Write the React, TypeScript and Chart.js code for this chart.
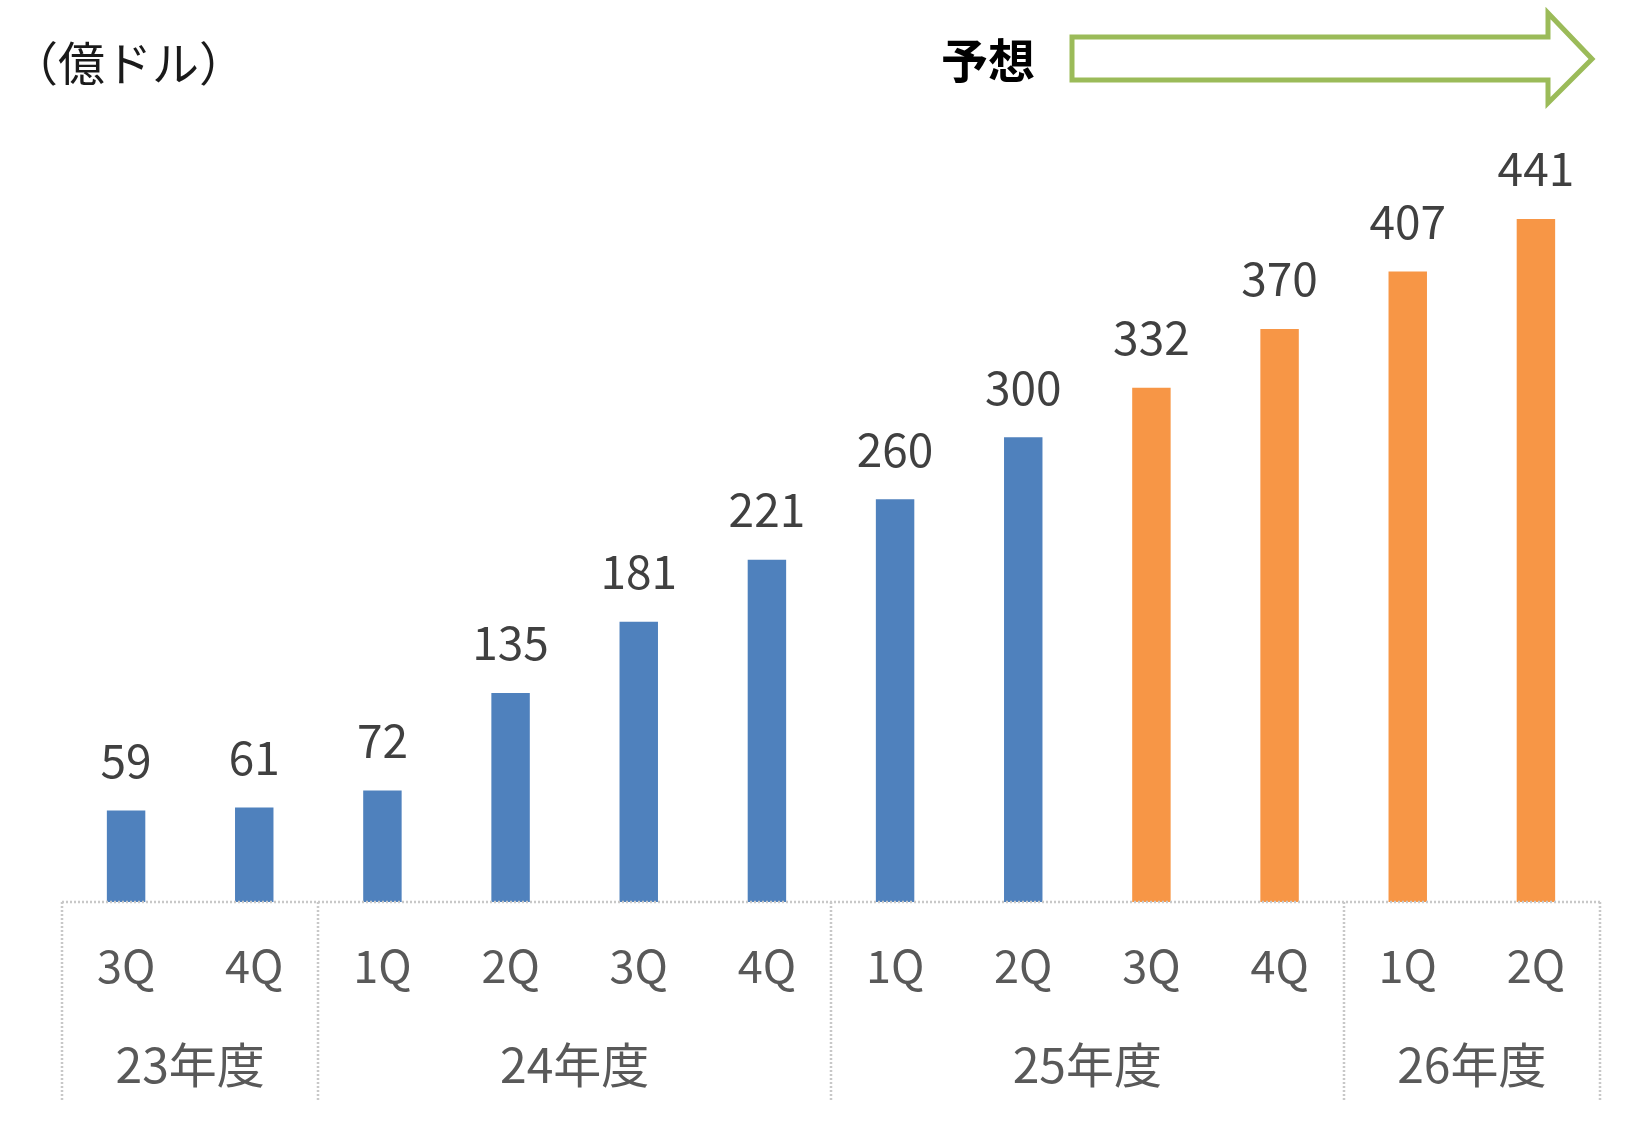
import React, { useEffect, useRef } from "react";
import { Chart, registerables } from "chart.js";

Chart.register(...registerables);

const quarterLabels = ["3Q", "4Q", "1Q", "2Q", "3Q", "4Q", "1Q", "2Q", "3Q", "4Q", "1Q", "2Q"];
const yearLabels = ["23年度", "24年度", "25年度", "26年度"];
const yearGroupSizes = [2, 4, 4, 2];
const actualValues = [59, 61, 72, 135, 181, 221, 260, 300, null, null, null, null];
const forecastValues = [null, null, null, null, null, null, null, null, 332, 370, 407, 441];
const unitLabel = "（億ドル）";
const forecastLabel = "予想";

const FONT = '"Noto Sans CJK JP", "Noto Sans", sans-serif';

const overlayPlugin = {
  id: "overlay",
  afterDatasetsDraw(chart: any) {
    const ctx = chart.ctx as CanvasRenderingContext2D;
    const x = chart.scales.x;
    const area = chart.chartArea;
    ctx.save();

    // value labels
    chart.data.datasets.forEach((ds: any, di: number) => {
      const meta = chart.getDatasetMeta(di);
      meta.data.forEach((bar: any, i: number) => {
        const v = ds.data[i];
        if (v === null || v === undefined) return;
        ctx.font = `46px ${FONT}`;
        ctx.fillStyle = "#404040";
        ctx.textAlign = "center";
        ctx.textBaseline = "middle";
        ctx.fillText(String(v), bar.x, bar.y - 50);
      });
    });

    // table lines
    const n = quarterLabels.length;
    const boundary = (i: number) => {
      if (i <= 0) return area.left;
      if (i >= n) return area.right;
      return (x.getPixelForValue(i - 1) + x.getPixelForValue(i)) / 2;
    };
    const tableBottom = area.bottom + 198;
    ctx.strokeStyle = "#c8c8c8";
    ctx.lineWidth = 2.5;
    ctx.setLineDash([2, 2]);
    ctx.beginPath();
    ctx.moveTo(area.left, area.bottom);
    ctx.lineTo(area.right, area.bottom);
    let idx = 0;
    const seps = [0];
    yearGroupSizes.forEach((s) => {
      idx += s;
      seps.push(idx);
    });
    seps.forEach((s) => {
      const px = Math.round(boundary(s));
      ctx.moveTo(px, area.bottom);
      ctx.lineTo(px, tableBottom);
    });
    ctx.stroke();
    ctx.setLineDash([]);

    // quarter labels
    ctx.font = `45px ${FONT}`;
    ctx.fillStyle = "#595959";
    ctx.textAlign = "center";
    ctx.textBaseline = "middle";
    quarterLabels.forEach((q, i) => {
      ctx.fillText(q, x.getPixelForValue(i), area.bottom + 64);
    });

    // year labels
    ctx.font = `48px ${FONT}`;
    let start = 0;
    yearLabels.forEach((y, gi) => {
      const end = start + yearGroupSizes[gi];
      const cx = (boundary(start) + boundary(end)) / 2;
      ctx.fillText(y, cx, area.bottom + 163);
      start = end;
    });

    // unit label
    ctx.font = `47px ${FONT}`;
    ctx.fillStyle = "#1a1a1a";
    ctx.textAlign = "left";
    ctx.fillText(unitLabel, 11, 63);

    // forecast label
    ctx.font = `bold 47px ${FONT}`;
    ctx.fillStyle = "#000000";
    ctx.textAlign = "center";
    ctx.fillText(forecastLabel, 988, 60);

    // forecast arrow
    ctx.strokeStyle = "#9bbb59";
    ctx.lineWidth = 5;
    ctx.lineJoin = "miter";
    ctx.beginPath();
    ctx.moveTo(1072, 37);
    ctx.lineTo(1548, 37);
    ctx.lineTo(1548, 13);
    ctx.lineTo(1592, 59);
    ctx.lineTo(1548, 103);
    ctx.lineTo(1548, 80);
    ctx.lineTo(1072, 80);
    ctx.closePath();
    ctx.stroke();

    ctx.restore();
  },
};

export default function App() {
  const ref = useRef<HTMLCanvasElement | null>(null);
  useEffect(() => {
    if (!ref.current) return;
    const chart = new Chart(ref.current, {
      type: "bar",
      data: {
        labels: quarterLabels,
        datasets: [
          {
            label: "実績",
            data: actualValues as any,
            backgroundColor: "#4f81bd",
            barPercentage: 0.3,
            categoryPercentage: 1,
          },
          {
            label: "予想",
            data: forecastValues as any,
            backgroundColor: "#f79646",
            barPercentage: 0.3,
            categoryPercentage: 1,
          },
        ],
      },
      options: {
        responsive: false,
        animation: false,
        layout: { padding: { left: 62, right: 50, top: 158.5, bottom: 219 } },
        plugins: { legend: { display: false }, tooltip: { enabled: false } },
        scales: {
          x: { display: false, stacked: true },
          y: { display: false, stacked: true, min: 0, max: 480 },
        },
      },
      plugins: [overlayPlugin],
    });
    return () => chart.destroy();
  }, []);
  return (
    <div style={{ position: "absolute", left: 0, top: 0, width: 1650, height: 1121, background: "#fff" }}>
      <canvas ref={ref} width={1650} height={1121} style={{ width: 1650, height: 1121 }} />
    </div>
  );
}
